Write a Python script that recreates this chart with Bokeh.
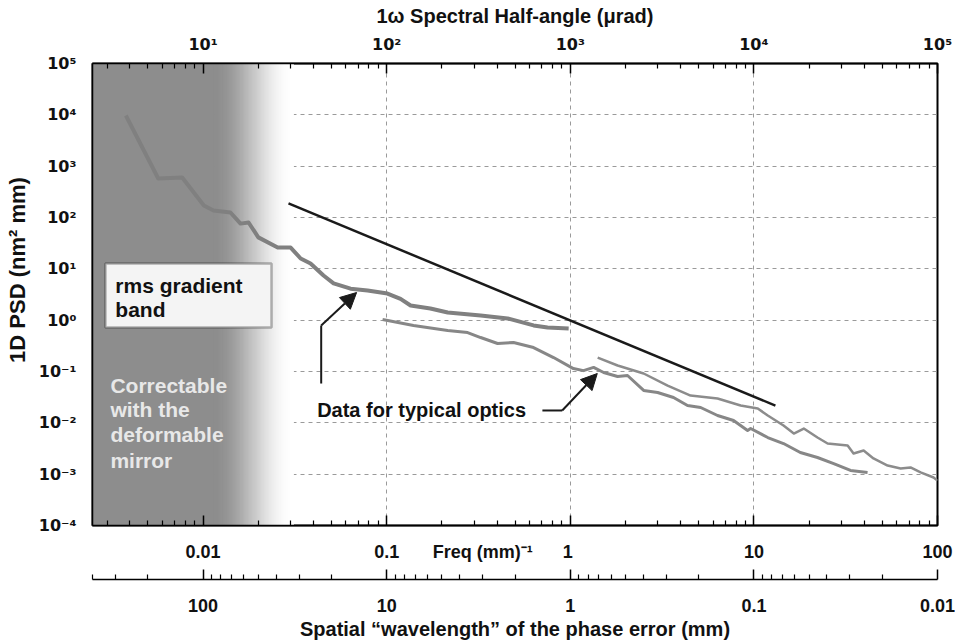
from bokeh.plotting import figure
from bokeh.models import LogAxis, FixedTicker, Label, Arrow, NormalHead, Range1d, BoxAnnotation
from bokeh.embed import file_html
from bokeh.resources import INLINE
import math

# ---------------- data ----------------
# Curve A: low-frequency data (thick gray)
curve_a_freq = [0.0038, 0.0057, 0.0077, 0.0101, 0.0114, 0.0141, 0.016, 0.0177, 0.020, 0.0255,
                0.030, 0.034, 0.0385, 0.0453, 0.0514, 0.0636, 0.0787, 0.101, 0.119, 0.135,
                0.173, 0.215, 0.325, 0.456, 0.631, 0.752, 0.98]
curve_a_psd = [9700, 575, 600, 171, 137, 125, 76, 80, 41, 26,
               26, 15.9, 12.7, 7.4, 5.2, 4.1, 3.8, 3.3, 2.6, 1.93,
               1.69, 1.41, 1.23, 1.08, 0.79, 0.72, 0.69]

# Curve B: mid/high-frequency data (gray)
curve_b_freq = [0.095, 0.140, 0.215, 0.276, 0.325, 0.402, 0.491, 0.631, 0.811, 1.04,
                1.18, 1.34, 1.52, 1.81, 2.05, 2.51, 2.99, 3.65, 4.35, 5.13,
                6.34, 7.75, 9.24, 9.6, 11.9, 14.5, 17.9, 22.2, 27.2, 33.6, 41.6]
curve_b_psd = [1.03, 0.787, 0.629, 0.574, 0.459, 0.351, 0.367, 0.293, 0.187, 0.114,
               0.104, 0.120, 0.0955, 0.0798, 0.0835, 0.0427, 0.039, 0.0311, 0.0217, 0.0199,
               0.0139, 0.0111, 0.00708, 0.00774, 0.00517, 0.00395, 0.00264, 0.00211, 0.00161, 0.00118, 0.00108]

# Curve C: high-frequency data (thin gray)
curve_c_freq = [1.41, 1.81, 2.51, 3.39, 4.52, 6.34, 8.47, 10.5, 11.9, 14.5,
                16.5, 18.7, 22.2, 25.2, 32.4, 34.9, 39.6, 44.8, 53.5, 63.0,
                71.3, 80.9, 95.2, 100]
curve_c_psd = [0.187, 0.131, 0.0914, 0.0533, 0.034, 0.0298, 0.0217, 0.019, 0.0139, 0.00885,
               0.00619, 0.00774, 0.00517, 0.00395, 0.00361, 0.00252, 0.00289, 0.00202, 0.00147, 0.00129,
               0.00135, 0.00108, 0.00086, 0.00075]

# rms gradient limit line (black)
limit_freq = [0.0292, 13.1]
limit_psd = [188, 0.0217]

# correctable band (deformable mirror)
band_left, band_dark_end, band_right = 0.0025, 0.0115, 0.031

# axes
x_lo, x_hi = 0.0025, 100
y_lo, y_hi = 1e-4, 1e5
freq_ticks = [0.01, 0.1, 1, 10, 100]
freq_tick_labels = ["0.01", "0.1", "1", "10", "100"]
freq_axis_title = "Freq (mm)\u207b\u00b9"
angle_tick_labels = ["10¹", "10²", "10³", "10⁴", "10⁵"]
wavelength_tick_labels = ["100", "10", "1", "0.1", "0.01"]
psd_ticks = [1e-4, 1e-3, 1e-2, 1e-1, 1e0, 1e1, 1e2, 1e3, 1e4, 1e5]
psd_tick_labels = ["10⁻⁴", "10⁻³", "10⁻²", "10⁻¹", "10⁰", "10¹", "10²", "10³", "10⁴", "10⁵"]

# annotation anchors (data coords)
arrow1_path_x = [0.0440, 0.0440]
arrow1_path_y = [0.0583, 0.787]
arrow1_tip = (0.0686, 3.46)
arrow2_path_x = [0.705, 0.904]
arrow2_path_y = [0.0174, 0.0174]
arrow2_tip = (1.403, 0.0914)

FONT = "Liberation Sans"
SUPFONT = "DejaVu Sans"
NBSP = "\u00a0"

# ---------------- figure ----------------
p = figure(width=955, height=644, x_axis_type="log", y_axis_type="log",
           x_range=Range1d(x_lo, x_hi), y_range=Range1d(y_lo, y_hi),
           output_backend="svg", toolbar_location=None, title=None,
           min_border_left=92, min_border_right=18, min_border_top=63, min_border_bottom=119)
p.background_fill_color = "white"
p.border_fill_color = "white"
p.outline_line_color = "black"
p.outline_line_width = 2

# gradient band
n_steps = 60
lefts, rights, colors = [band_left], [band_dark_end], ["#8d8d8d"]
la, lb = math.log10(band_dark_end), math.log10(band_right)
for i in range(n_steps):
    t0 = i / n_steps
    t1 = (i + 1) / n_steps
    tm = (t0 + t1) / 2
    s = tm * tm * (3 - 2 * tm)
    g = int(round(141 + (255 - 141) * s))
    lefts.append(10 ** (la + (lb - la) * t0))
    rights.append(10 ** (la + (lb - la) * t1))
    colors.append("#%02x%02x%02x" % (g, g, g))
p.quad(left=lefts, right=rights, bottom=y_lo, top=y_hi, fill_color=colors,
       line_color=colors, line_width=1.2)

# grid
for g in (p.xgrid, p.ygrid):
    g.grid_line_color = "#9a9a9a"
    g.grid_line_dash = "4 4"
    g.grid_line_width = 1
p.xgrid.ticker = FixedTicker(ticks=freq_ticks)
p.ygrid.ticker = FixedTicker(ticks=psd_ticks)

# curves
p.line(curve_a_freq, curve_a_psd, line_color="#808080", line_width=4, line_join="round")
p.line(curve_b_freq, curve_b_psd, line_color="#878787", line_width=3, line_join="round")
p.line(curve_c_freq, curve_c_psd, line_color="#8c8c8c", line_width=2.5, line_join="round")
p.line(limit_freq, limit_psd, line_color="#1a1a1a", line_width=2.5)

# ticks
freq_minor = [k * 10.0 ** n for n in range(-3, 2) for k in range(2, 10) if x_lo <= k * 10.0 ** n <= x_hi]
wl_minor = [1.0 / (k * 10.0 ** n) for n in range(-2, 3) for k in range(2, 10) if x_lo <= 1.0 / (k * 10.0 ** n) <= x_hi]

def style_x_axis(ax, labels, minor):
    ax.ticker = FixedTicker(ticks=freq_ticks, minor_ticks=minor)
    ax.major_label_overrides = {t: l for t, l in zip(freq_ticks, labels)}
    ax.major_tick_in = 10
    ax.major_tick_out = 0
    ax.minor_tick_in = 5
    ax.minor_tick_out = 0
    ax.major_tick_line_color = "black"
    ax.minor_tick_line_color = "black"
    ax.major_tick_line_width = 1.5
    ax.minor_tick_line_width = 1.2
    ax.axis_line_color = "black"
    ax.axis_line_width = 1.5
    ax.major_label_text_font = FONT
    ax.major_label_text_font_style = "bold"
    ax.major_label_text_font_size = "18px"
    ax.major_label_text_color = "#111111"
    ax.axis_label_text_font = FONT
    ax.axis_label_text_font_style = "bold"
    ax.axis_label_text_font_size = "20px"
    ax.axis_label_text_color = "#111111"

# bottom frequency axis: its title sits in the tick-label row, left of the "1" tick
xa = p.xaxis[0]
freq_labels_row = list(freq_tick_labels)
freq_labels_row[2] = freq_axis_title + NBSP * 6 + freq_tick_labels[2] + NBSP * 27
style_x_axis(xa, freq_labels_row, freq_minor)
xa.major_label_standoff = 16
xa.axis_label = " "
xa.axis_label_standoff = 0
xa.axis_label_text_font_size = "11px"

# second bottom axis: spatial wavelength
wa = LogAxis()
style_x_axis(wa, wavelength_tick_labels, wl_minor)
wa.major_label_standoff = 19
wa.axis_label = "Spatial \u201cwavelength\u201d of the phase error (mm)"
wa.axis_label_standoff = 3
p.add_layout(wa, "below")

# top angle axis
ta = LogAxis()
style_x_axis(ta, angle_tick_labels, freq_minor)
ta.major_label_text_font = SUPFONT
ta.major_label_text_font_size = "16px"
ta.major_label_standoff = 10
ta.axis_label = "1\u03c9 Spectral Half-angle (\u03bcrad)"
ta.axis_label_standoff = 5
p.add_layout(ta, "above")

# left axis
ya = p.yaxis[0]
ya.ticker = FixedTicker(ticks=psd_ticks, minor_ticks=[])
ya.major_label_overrides = {t: l for t, l in zip(psd_ticks, psd_tick_labels)}
ya.major_tick_in = 0
ya.major_tick_out = 0
ya.minor_tick_in = 0
ya.minor_tick_out = 0
ya.axis_line_color = "black"
ya.axis_line_width = 1.5
ya.major_label_standoff = 16
ya.major_label_text_font = SUPFONT
ya.major_label_text_font_style = "bold"
ya.major_label_text_font_size = "16px"
ya.major_label_text_color = "#111111"
ya.axis_label = NBSP * 8 + "1D PSD (nm\u00b2 mm)"
ya.axis_label_standoff = 6
ya.axis_label_text_font = FONT
ya.axis_label_text_font_style = "bold"
ya.axis_label_text_font_size = "22px"
ya.axis_label_text_color = "#111111"

# rms gradient band box
box = BoxAnnotation(left=0.00294, right=0.0236, bottom=0.72, top=12.7,
                    fill_color="#f4f4f4", fill_alpha=1.0, line_color="#111111", line_width=2.5)
p.add_layout(box)

def add_label(x, y, text, size="20px", color="#111111", align="left"):
    lab = Label(x=x, y=y, text=text, text_font=FONT, text_font_style="bold",
                text_font_size=size, text_color=color, text_align=align, text_baseline="middle")
    p.add_layout(lab)

add_label(0.00333, 4.73, "rms gradient", size="21px")
add_label(0.00333, 1.61, "band", size="21px")

for yy, tt in zip([0.0533, 0.0182, 0.00591, 0.00185], ["Correctable", "with the", "deformable", "mirror"]):
    add_label(0.00313, yy, tt, size="21px", color="#e8e8e8")

add_label(0.155, 0.0174, "Data for typical optics", size="20px", align="center")

# arrows
p.line(arrow1_path_x, arrow1_path_y, line_color="#1a1a1a", line_width=2)
p.add_layout(Arrow(end=NormalHead(size=16, fill_color="#1a1a1a", line_color="#1a1a1a"),
                   x_start=arrow1_path_x[-1], y_start=arrow1_path_y[-1],
                   x_end=arrow1_tip[0], y_end=arrow1_tip[1], line_color="#1a1a1a", line_width=2))
p.line(arrow2_path_x, arrow2_path_y, line_color="#1a1a1a", line_width=2)
p.add_layout(Arrow(end=NormalHead(size=16, fill_color="#1a1a1a", line_color="#1a1a1a"),
                   x_start=arrow2_path_x[-1], y_start=arrow2_path_y[-1],
                   x_end=arrow2_tip[0], y_end=arrow2_tip[1], line_color="#1a1a1a", line_width=2))

open("out.html", "w").write(file_html(p, INLINE))
